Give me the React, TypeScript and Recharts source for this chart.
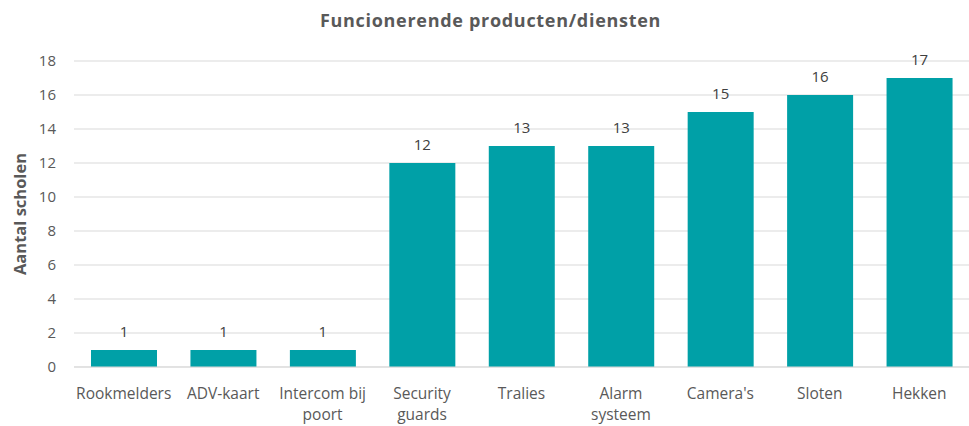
import { BarChart, Bar, XAxis, YAxis, CartesianGrid, LabelList } from 'recharts';

const categories = [
  'Rookmelders',
  'ADV-kaart',
  'Intercom bij poort',
  'Security guards',
  'Tralies',
  'Alarm systeem',
  "Camera's",
  'Sloten',
  'Hekken',
];
const tickLines = [
  ['Rookmelders'],
  ['ADV-kaart'],
  ['Intercom bij', 'poort'],
  ['Security', 'guards'],
  ['Tralies'],
  ['Alarm', 'systeem'],
  ["Camera's"],
  ['Sloten'],
  ['Hekken'],
];
const values = [1, 1, 1, 12, 13, 13, 15, 16, 17];
const yTicks = [0, 2, 4, 6, 8, 10, 12, 14, 16, 18];

const FONT = '"Open Sans", Lato, sans-serif';
const TEXT = '#595959';
const BAR = '#00A0A7';
const GRID = '#d9d9d9';

const data = categories.map((name, i) => ({ name, value: values[i] }));

function XTick({ x, y, payload }: any) {
  const lines = tickLines[payload.index] ?? [payload.value];
  return (
    <text x={x} y={y} textAnchor="middle" fill={TEXT} fontSize={15.5} fontFamily={FONT}>
      {lines.map((l, i) => (
        <tspan key={i} x={x} dy={i === 0 ? 24 : 21}>
          {l}
        </tspan>
      ))}
    </text>
  );
}

function YLabel({ viewBox }: any) {
  const cx = 19;
  const cy = viewBox.y + viewBox.height / 2;
  return (
    <text
      x={cx}
      y={cy}
      transform={`rotate(-90, ${cx}, ${cy})`}
      textAnchor="middle"
      dominantBaseline="central"
      fill={TEXT}
      fontSize={16.5}
      fontWeight={700}
      fontFamily={FONT}
    >
      Aantal scholen
    </text>
  );
}

export default function App() {
  return (
    <div style={{ position: 'absolute', left: 0, top: 0, width: 969, height: 426, background: '#fff' }}>
      <div
        style={{
          position: 'absolute',
          left: 0,
          right: 0,
          top: 8,
          textAlign: 'center',
          paddingLeft: 12,
          fontFamily: FONT,
          fontWeight: 700,
          fontSize: 18,
          letterSpacing: 0.7,
          color: TEXT,
        }}
      >
        Funcionerende producten/diensten
      </div>
      <BarChart
        width={969}
        height={426}
        data={data}
        margin={{ top: 61, right: 0, bottom: 0, left: 0 }}
      >
        <CartesianGrid vertical={false} stroke={GRID} />
        <XAxis
          dataKey="name"
          interval={0}
          axisLine={{ stroke: GRID }}
          tickLine={false}
          tick={<XTick />}
          height={59}
        />
        <YAxis
          width={74}
          domain={[0, 18]}
          ticks={yTicks}
          axisLine={false}
          tickLine={false}
          tickSize={0}
          tickMargin={18}
          tick={{ fill: TEXT, fontSize: 15, fontFamily: FONT }}
          label={<YLabel />}
        />
        <Bar dataKey="value" fill={BAR} barSize={66} isAnimationActive={false}>
          <LabelList
            dataKey="value"
            position="top"
            offset={13}
            fill="#404040"
            fontSize={15}
            fontFamily={FONT}
          />
        </Bar>
      </BarChart>
    </div>
  );
}
